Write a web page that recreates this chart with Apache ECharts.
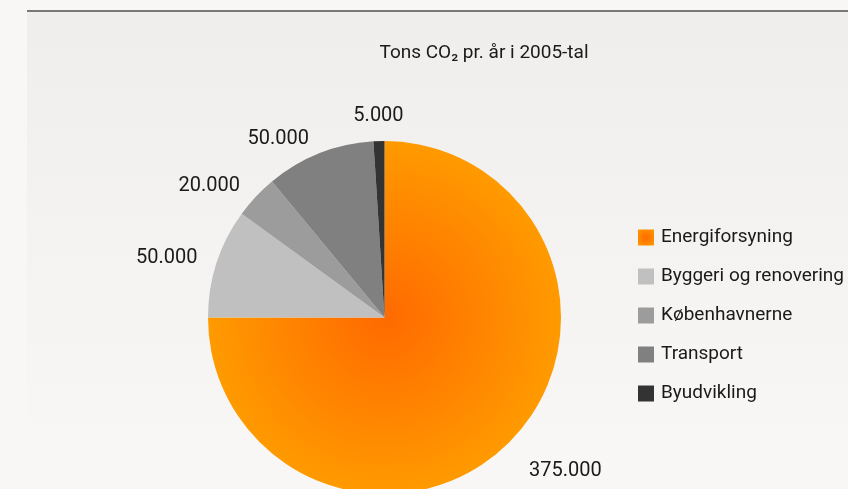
<!DOCTYPE html>
<html>
<head>
<meta charset="utf-8">
<script src="https://cdn.jsdelivr.net/npm/echarts@6/dist/echarts.min.js"></script>
<style>
html,body{margin:0;padding:0;background:#f8f7f6;}
#main{width:848px;height:489px;}
</style>
</head>
<body>
<div id="main"></div>
<script>
// ---- data ----
const title = 'Tons CO\u2082 pr. år i 2005-tal';
const categories = ['Energiforsyning', 'Byggeri og renovering', 'Københavnerne', 'Transport', 'Byudvikling'];
const values = [375000, 50000, 20000, 50000, 5000];
const colors = ['#ff9900', '#c0c0c0', '#9c9c9c', '#808080', '#333333'];

const FONT = 'Roboto';
const W = 848, H = 489;
const cx = 384.5, cy = 317.5, R = 176.5;

function fmt(v) {
  return String(v).replace(/\B(?=(\d{3})+(?!\d))/g, '.');
}

const total = values.reduce((a, b) => a + b, 0);
// mid-angle direction of each slice (clockwise from 12 o'clock)
const dirs = [];
let acc = 0;
values.forEach(v => {
  const mid = (acc + v / 2) / total * Math.PI * 2;
  dirs.push([Math.sin(mid), -Math.cos(mid)]);
  acc += v;
});

const orangeGlobal = {
  type: 'radial', x: cx, y: cy, r: R, global: true,
  colorStops: [{offset: 0, color: '#ff6a00'}, {offset: 1, color: '#ff9a00'}]
};
const orangeLocal = {
  type: 'radial', x: 0.5, y: 0.5, r: 0.7,
  colorStops: [{offset: 0, color: '#ff6a00'}, {offset: 1, color: '#ff9a00'}]
};

const pieData = categories.map((c, i) => ({
  name: c,
  value: values[i],
  itemStyle: {color: i === 0 ? orangeGlobal : colors[i]}
}));

const legendData = categories.map((c, i) => ({
  name: c,
  itemStyle: {color: i === 0 ? orangeLocal : colors[i]}
}));

const chart = echarts.init(document.getElementById('main'), null, {renderer: 'canvas'});
chart.setOption({
  backgroundColor: '#f8f7f6',
  animation: false,
  graphic: [
    {
      type: 'rect', z: -10, silent: true,
      shape: {x: 27, y: 12, width: W - 27, height: 436},
      style: {
        fill: {
          type: 'linear', x: 0, y: 0, x2: 0, y2: 1,
          colorStops: [{offset: 0, color: '#efeeed'}, {offset: 1, color: '#f8f7f6'}]
        }
      }
    },
    {
      type: 'rect', z: -9, silent: true,
      shape: {x: 27, y: 10, width: W - 27, height: 2},
      style: {fill: '#787878'}
    }
  ],
  title: {
    text: title,
    left: 484, top: 44,
    padding: 0,
    textAlign: 'center',
    textStyle: {fontFamily: FONT, fontSize: 19, fontWeight: 'normal', color: '#1a1a1a'}
  },
  legend: {
    orient: 'vertical',
    left: 638, top: 228,
    padding: 0,
    icon: 'rect',
    itemWidth: 16, itemHeight: 16,
    itemGap: 20,
    data: legendData,
    textStyle: {fontFamily: FONT, fontSize: 19, color: '#1a1a1a', padding: [0, 0, 0, 2]}
  },
  series: [{
    type: 'pie',
    center: [cx, cy],
    radius: R,
    startAngle: 90,
    clockwise: true,
    avoidLabelOverlap: false,
    data: pieData,
    itemStyle: {borderWidth: 0},
    label: {
      show: true,
      position: 'outside',
      formatter: p => fmt(p.value),
      fontFamily: FONT, fontSize: 20, color: '#1a1a1a',
      distanceToLabelLine: 5
    },
    labelLine: {show: false, length: 15, length2: 0},
    labelLayout: function (params) {
      const d = dirs[params.dataIndex];
      const out = {};
      if (Math.abs(d[0]) < 0.2) {
        out.align = 'center';
        out.x = params.labelRect.x + (d[0] < 0 ? params.labelRect.width + 5 : -5);
      }
      if (d[1] < -0.97) out.verticalAlign = 'bottom';
      if (d[1] > 0.5) {
        out.verticalAlign = 'top';
        out.dx = 4;
        out.dy = 8;
      }
      return out;
    },
    emphasis: {disabled: true}
  }]
});
</script>
</body>
</html>
